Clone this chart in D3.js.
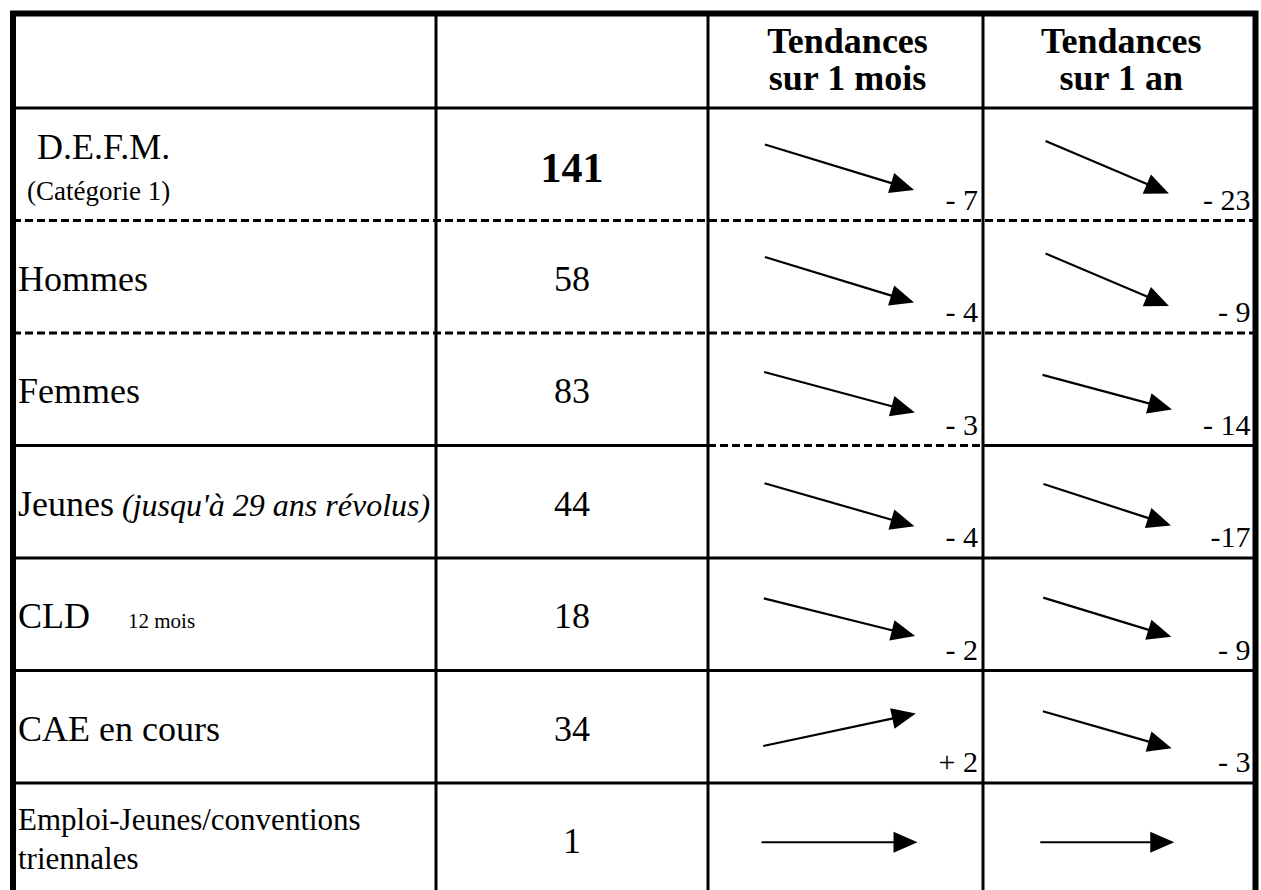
<!DOCTYPE html>
<html>
<head>
<meta charset="utf-8">
<script src="https://cdn.jsdelivr.net/npm/d3@7"></script>
<style>
  body { margin: 0; background: #fff; }
  svg text { font-family: "Liberation Serif", "Times New Roman", serif; fill: #000; }
</style>
</head>
<body>
<div id="chart"></div>
<script>
// table content
const rowLabels = ["D.E.F.M.", "Hommes", "Femmes", "Jeunes", "CLD", "CAE en cours", "Emploi-Jeunes/conventions"];
const rowSubLabels = ["(Catégorie 1)", "", "", "(jusqu'à 29 ans révolus)", "12 mois", "", "triennales"];
const counts = [141, 58, 83, 44, 18, 34, 1];
const headerMois = ["Tendances", "sur 1 mois"];
const headerAn = ["Tendances", "sur 1 an"];
const moisLabels = ["- 7", "- 4", "- 3", "- 4", "- 2", "+ 2", ""];
const anLabels = ["- 23", "- 9", "- 14", "-17", "- 9", "- 3", ""];
// arrow direction (degrees, positive = down)
const moisAngles = [17, 17, 15, 16, 14, -12, 0];
const anAngles = [23, 23, 15, 18, 17, 16, 0];

const width = 1261, height = 890;
const colEdges = [13, 436, 708, 983, 1255.5];
const headerTop = 13.5, headerBottom = 108;

const svg = d3.select("#chart").append("svg")
  .attr("width", width)
  .attr("height", height);

const y = d3.scaleBand()
  .domain(d3.range(rowLabels.length))
  .range([headerBottom, 895.5]);

const x = d3.scaleOrdinal()
  .domain(d3.range(colEdges.length))
  .range(colEdges);

const colCenter = i => (x(i) + x(i + 1)) / 2;

// ---- grid lines ----
const grid = svg.append("g");

function hLine(x1, x2, yy, dashed) {
  grid.append("line")
    .attr("x1", x1).attr("x2", x2)
    .attr("y1", yy).attr("y2", yy)
    .attr("stroke", "#000")
    .attr("stroke-width", 3)
    .attr("stroke-dasharray", dashed ? "8,4" : null);
}

hLine(x(0), x(4), headerBottom, false);
d3.range(1, rowLabels.length).forEach(i => {
  const yy = y(i);
  if (i <= 2) {
    hLine(x(0), x(4), yy, true);
  } else if (i === 3) {
    hLine(x(0), x(2), yy, false);
    hLine(x(2), x(3), yy, true);
    hLine(x(3), x(4), yy, false);
  } else {
    hLine(x(0), x(4), yy, false);
  }
});

[1, 2, 3].forEach(c => {
  grid.append("line")
    .attr("x1", x(c)).attr("x2", x(c))
    .attr("y1", headerTop).attr("y2", height + 10)
    .attr("stroke", "#000")
    .attr("stroke-width", 3);
});

// outer border (bottom is outside the picture)
grid.append("path")
  .attr("d", `M${x(0)},${height + 10}V${headerTop}H${x(4)}V${height + 10}`)
  .attr("fill", "none")
  .attr("stroke", "#000")
  .attr("stroke-width", 6);

// ---- headers ----
[[headerMois, 2], [headerAn, 3]].forEach(([lines, c]) => {
  svg.append("text")
    .attr("x", colCenter(c) + 2)
    .attr("text-anchor", "middle")
    .attr("font-weight", "bold")
    .attr("font-size", 36)
    .selectAll("tspan")
    .data(lines)
    .join("tspan")
    .attr("x", colCenter(c) + 2)
    .attr("y", (d, i) => 53 + i * 37)
    .text(d => d);
});

// ---- row labels ----
const labelX = x(0) + 5;
rowLabels.forEach((label, i) => {
  const top = y(i);
  const sub = rowSubLabels[i];
  if (i === 0) {
    svg.append("text").attr("x", labelX + 19).attr("y", top + 51)
      .attr("font-size", 36).text(label);
    svg.append("text").attr("x", labelX + 9).attr("y", top + 92)
      .attr("font-size", 27).text(sub);
  } else if (i === rowLabels.length - 1) {
    svg.append("text").attr("x", labelX).attr("y", top + 47)
      .attr("font-size", 31).text(label);
    svg.append("text").attr("x", labelX).attr("y", top + 86)
      .attr("font-size", 31).text(sub);
  } else {
    const t = svg.append("text").attr("x", labelX).attr("y", top + 70)
      .attr("font-size", 36);
    t.append("tspan").text(label);
    if (i === 3) {
      t.append("tspan").attr("font-style", "italic").attr("font-size", 32).text(" " + sub);
    } else if (sub) {
      t.append("tspan").attr("x", labelX + 110).attr("font-size", 21).text(sub);
    }
  }
});

// ---- counts ----
svg.append("g")
  .selectAll("text")
  .data(counts)
  .join("text")
  .attr("x", colCenter(1))
  .attr("y", (d, i) => y(i) + (i === 0 ? 74 : 70))
  .attr("text-anchor", "middle")
  .attr("font-size", (d, i) => i === 0 ? 42 : 36)
  .attr("font-weight", (d, i) => i === 0 ? "bold" : "normal")
  .text(d => d);

// ---- trend arrows and changes ----
function drawArrows(angles, labels, c, len, dx) {
  const g = svg.append("g");
  angles.forEach((a, i) => {
    const cx = colCenter(c) + dx;
    const cy = y(i) + y.bandwidth() / 2 + 3;
    const r = a * Math.PI / 180;
    const ux = Math.cos(r), uy = Math.sin(r);
    const x0 = cx - ux * len / 2, y0 = cy - uy * len / 2;
    const x1 = cx + ux * len / 2, y1 = cy + uy * len / 2;
    const head = 24, half = 10.5;
    const bx = x1 - ux * head, by = y1 - uy * head;
    g.append("line")
      .attr("x1", x0).attr("y1", y0)
      .attr("x2", bx + ux * 2).attr("y2", by + uy * 2)
      .attr("stroke", "#000")
      .attr("stroke-width", 2.2);
    g.append("path")
      .attr("d", `M${x1},${y1}L${bx - uy * half},${by + ux * half}L${bx + uy * half},${by - ux * half}Z`)
      .attr("fill", "#000");
  });
  g.selectAll("text")
    .data(labels)
    .join("text")
    .attr("x", x(c + 1) - 5)
    .attr("y", (d, i) => y(i) + y.bandwidth() - 11)
    .attr("text-anchor", "end")
    .attr("font-size", 30)
    .text(d => d);
}

drawArrows(moisAngles, moisLabels, 2, 156, -6);
drawArrows(anAngles, anLabels, 3, 134, -12);
</script>
</body>
</html>
